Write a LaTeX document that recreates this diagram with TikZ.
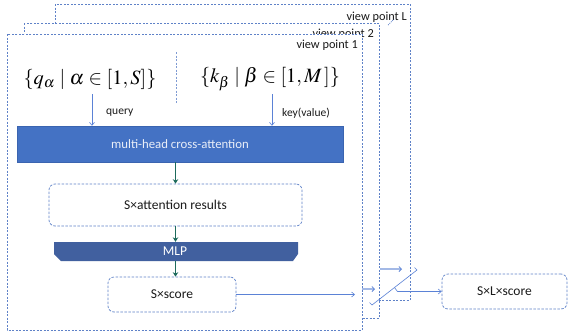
\documentclass[tikz,border=0pt]{standalone}
\usepackage{mathptmx}
\usepackage{fontspec}
\setmainfont{Carlito}
\usetikzlibrary{arrows.meta,calc}
\definecolor{frameblue}{HTML}{5F82C8}
\definecolor{arrowblue}{HTML}{5B82D6}
\definecolor{boxblue}{HTML}{4472C4}
\definecolor{boxedge}{HTML}{3A64B0}
\definecolor{mlpblue}{HTML}{41609F}
\definecolor{greenarrow}{HTML}{1E6B5C}
\definecolor{lightarrow}{HTML}{A3B9E6}
\definecolor{txt}{HTML}{1A1A1A}
\begin{document}
\begin{tikzpicture}[x=1pt,y=-1pt,
  frame/.style={draw=frameblue, dash pattern=on 2pt off 1.5pt, line width=0.7pt, fill=white},
  vlabel/.style={font=\fontsize{12.3}{14}\selectfont, text=txt, inner sep=0pt, anchor=base east},
  dbox/.style={draw=frameblue, dash pattern=on 2.5pt off 1.5pt, line width=0.7pt, rounded corners=6pt, fill=white, font=\fontsize{13.5}{16}\selectfont, text=txt, inner sep=0pt},
  mhabox/.style={fill=boxblue, draw=boxedge, line width=0.5pt, text=white!88!boxblue, font=\fontsize{12.8}{15}\selectfont, inner sep=0pt},
  mathtext/.style={font=\fontsize{20.3}{24}\selectfont, inner sep=0pt},
  small/.style={font=\fontsize{11.5}{13}\selectfont, text=txt, inner sep=0pt},
  tarrow/.style={draw=arrowblue, line width=0.6pt, -{Straight Barb[length=3pt,width=5pt]}},
  larrow/.style={draw=lightarrow, line width=1.5pt, -{Straight Barb[length=2.5pt,width=5pt,color=arrowblue,line width=0.8pt]}},
  garrow/.style={draw=greenarrow, line width=1.3pt, -{Stealth[length=4.5pt,width=5.5pt]}}
]
\useasboundingbox (0,0) rectangle (568,333);

% view point L
\draw[frame] (55,4) rectangle (410,300);
\node[vlabel] (vlL) at (407,20) {view point L};
\coordinate (la1) at (380,269);
\coordinate (la2) at (402,269);
\draw[larrow] (la1) -- (la2);
\coordinate (d1) at (388,25);
\coordinate (d2) at (394,19);
\draw[draw=frameblue, dash pattern=on 1pt off 1pt, line width=0.7pt] (d1) -- (d2);

% view point 2
\draw[frame] (24,23) rectangle (379,318);
\node[vlabel] (vl2) at (374,37) {view point 2};
\coordinate (sa1) at (362,289);
\coordinate (sa2) at (375,289);
\draw[larrow] (sa1) -- (sa2);

% view point 1
\draw[frame] (7,34) rectangle (362,330);
\node[vlabel] (vl1) at (358,48.5) {view point 1};

\draw[draw=frameblue!80, dash pattern=on 2pt off 1.5pt, line width=0.6pt] (176,52) coordinate (m1) -- (176,103) coordinate (m2);

\node[mathtext] (q) at (90,79) {$\{q_\alpha \mid \alpha \in [1,S]\}$};
\node[mathtext] (k) at (270,79) {$\{k_\beta \mid \beta \in [1,M\,]\}$};

\node[mhabox, minimum width=326pt, minimum height=36pt] (mha) at (180,144) {multi-head cross-attention};

\coordinate (qs) at (92,94);
\coordinate (ks) at (272,94);
\draw[tarrow] (qs) -- (qs |- mha.north);
\draw[tarrow] (ks) -- (ks |- mha.north);
\node[small, anchor=west] (ql) at (106,113) {query};
\node[small, anchor=west] (kl) at (282,113) {key(value)};

\node[dbox, minimum width=253pt, minimum height=42pt] (att) at (175.5,205) {S×attention results};
\draw[garrow] (mha.south -| att.north) -- (att.north);

% MLP
\fill[mlpblue] (54,242) -- (298,242) -- (298,254) -- (293,261) -- (61,261) -- (54,254) -- cycle;
\node[minimum width=244pt, minimum height=19pt, inner sep=0pt, text=white, font=\fontsize{13.5}{15}\selectfont] (mlp) at (175,251.5) {MLP};
\draw[garrow] (att.south) -- (att.south |- mlp.north);

\node[dbox, minimum width=128pt, minimum height=35pt] (score) at (172,294.5) {S×score};
\draw[garrow] (att.south |- mlp.south) -- (att.south |- score.north);

\coordinate (se) at (355,294.5);
\draw[tarrow] (score.east) -- (se);

% concatenation bracket
\coordinate (c1) at (372,305);
\coordinate (c2) at (417,270);
\coordinate (t1) at (369.5,302.5);
\coordinate (t2) at (414.5,267.5);
\draw[draw=arrowblue, line width=0.6pt] (t1) -- (c1) -- (c2) -- (t2);

\node[dbox, minimum width=125pt, minimum height=35pt] (sls) at (504.5,291.5) {S×L×score};
\coordinate (c3) at ($(c1)!0.5!(c2)$);
\coordinate (c4) at (397.5,291.5);
\draw[tarrow] (c3) -- (c4) -- (sls.west);
\end{tikzpicture}
\end{document}
